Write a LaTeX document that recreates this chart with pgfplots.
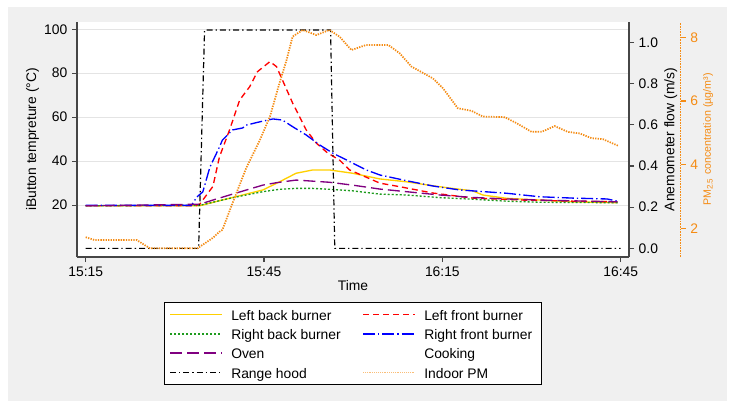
\documentclass[border=0pt]{standalone}
\usepackage{pgfplots}
\pgfplotsset{compat=1.18}
\usepackage{fontspec}
\setmainfont{Liberation Sans}
\definecolor{bggray}{RGB}{240,240,240}
\definecolor{cyellow}{RGB}{255,208,0}
\definecolor{cred}{RGB}{255,0,0}
\definecolor{cgreen}{RGB}{30,155,30}
\definecolor{cblue}{RGB}{0,0,255}
\definecolor{cpurple}{RGB}{128,0,128}
\definecolor{corange}{RGB}{245,140,20}
\definecolor{clorange}{RGB}{250,190,120}
\definecolor{axgray}{RGB}{70,70,70}
\definecolor{gridgray}{RGB}{228,228,228}
\newcommand\fa{\fontsize{10.4pt}{12pt}\selectfont}
\newcommand\fb{\fontsize{8pt}{9.6pt}\selectfont}
\pgfplotsset{
  base/.style={
    at={(57.75pt,113.25pt)}, anchor=south west,
    scale only axis, height=176.25pt,
    xmin=-1.46,
    /pgf/number format/assume math mode=true,
    tick align=outside, major tick length=3.75pt,
    tick label style={font=\fa},
    label style={font=\fa},
    axis line style={-, line width=0.9pt},
  },
}
\tikzset{
  yellowline/.style={color=cyellow, draw=cyellow, line width=1pt, solid},
  redline/.style={color=cred, draw=cred, line width=1pt, dash pattern=on 4.5pt off 3pt},
  greenline/.style={color=cgreen, draw=cgreen, line width=1pt, dash pattern=on 1.5pt off 1.5pt},
  blueline/.style={color=cblue, draw=cblue, line width=1pt, dash pattern=on 9pt off 2.25pt on 1pt off 2.25pt},
  purpleline/.style={color=cpurple, draw=cpurple, line width=1pt, dash pattern=on 9pt off 3.75pt},
  hoodline/.style={color=black, draw=black, line width=0.9pt, dash pattern=on 4.5pt off 2.25pt on 1pt off 2.25pt},
  pmlegend/.style={color=clorange, draw=clorange, line width=0.7pt, dash pattern=on 0.7pt off 0.7pt},
  legtext/.style={anchor=base west, inner sep=0pt, font=\fa, text=black},
}
\begin{document}
\begin{tikzpicture}
\fill[white] (0,0) rectangle (550.5pt,306pt);
\fill[bggray] (6pt,5.25pt) rectangle (545.5pt,300.75pt);

% Temperature axis
\begin{axis}[base, width=414pt, xmax=91.4,
  ymin=-3.6, ymax=103.3,
  axis x line*=bottom, axis y line*=left,
  axis line style={axgray},
  tick style={axgray, line width=0.9pt},
  xtick={0,30,60,90}, xticklabels={15:15,15:45,16:15,16:45},
  ytick={20,40,60,80,100},
  ymajorgrids, grid style={gridgray, line width=0.9pt},
  axis background/.style={fill=white},
  xlabel={Time},
  xlabel style={at={(axis description cs:0.5,-0.123)}, anchor=center},
  ylabel={iButton tempreture (°C)},
  ylabel style={at={(axis description cs:-0.0806,0.5)}, anchor=center},
]
\addplot[yellowline] coordinates {
(0,19.7) (19.2,19.7) (22.5,22.0) (24.2,23.1) (29.8,26.9) (32.1,29.9) (35.4,34.5) (38.2,36.0) (41.0,36.0) (44.9,34.5) (49.5,31.9) (54.0,30.6) (58.4,28.8) (61.7,27.6) (65.1,26.5) (66.8,24.6) (70.8,23.1) (76.4,22.3) (81.9,21.5) (89.5,21.1)};
\addplot[redline] coordinates {
(0,19.7) (18.5,19.7) (19.2,20.5) (19.7,22.3) (21.4,28.5) (22.5,41.9) (24.2,54.2) (25.9,67.8) (27.6,73.9) (28.9,80.7) (31.0,85.3) (32.1,83.0) (33.1,76.9) (34.8,66.5) (37.1,54.2) (38.8,48.2) (40.7,43.7) (42.7,40.5) (44.4,36.0) (46.1,34.0) (48.3,31.4) (49.5,30.0) (52.8,28.4) (58.4,25.5) (65.1,23.2) (73.5,22.3) (81.9,21.8) (89.5,21.5)};
\addplot[greenline] coordinates {
(0,19.7) (19.2,19.9) (22.5,22.0) (24.2,23.1) (29.8,26.1) (32.6,27.2) (35.4,27.6) (38.2,27.6) (41.0,27.2) (44.9,26.5) (49.5,25.0) (54.0,24.6) (59.6,23.4) (65.1,22.7) (70.8,21.8) (76.4,21.3) (89.5,21.1)};
\addplot[blueline] coordinates {
(0,19.9) (17.8,19.9) (18.7,23.7) (19.7,26.0) (20.9,37.3) (22.5,46.4) (23.0,49.6) (24.2,52.8) (24.7,54.2) (26.4,55.1) (27.0,56.4) (29.3,57.9) (31.5,59.2) (33.1,58.7) (34.8,55.7) (37.1,51.9) (39.4,47.3) (41.6,43.6) (43.9,40.5) (46.1,37.5) (47.2,36.0) (49.5,33.7) (54.0,31.1) (58.4,28.7) (62.9,26.9) (70.8,25.4) (76.4,23.8) (81.9,23.2) (87.7,22.8) (89.5,21.8)};
\addplot[purpleline] coordinates {
(0,19.7) (19.2,20.4) (21.4,22.3) (24.2,24.6) (29.8,29.1) (32.1,30.2) (35.4,31.4) (41.0,30.4) (44.9,29.1) (49.5,27.3) (54.0,26.1) (59.6,24.6) (65.1,23.5) (70.8,22.8) (76.4,22.3) (89.5,21.5)};
\end{axis}

% Flow axis
\begin{axis}[base, width=414pt, xmax=91.4,
  ymin=-0.042, ymax=1.099,
  hide x axis, axis y line*=right,
  axis line style={axgray},
  tick style={axgray, line width=0.9pt},
  ytick={0,0.2,0.4,0.6,0.8,1.0},
  yticklabel style={/pgf/number format/.cd, fixed, fixed zerofill, precision=1},
  ylabel={Anemometer flow (m/s)},
  ylabel style={at={(axis description cs:1.0757,0.5)}, anchor=center, rotate=0},
]
\addplot[hoodline] coordinates {
(0,0) (19.0,0) (20.0,1.06) (41.2,1.06) (41.9,0) (90,0)};
\end{axis}

% PM axis
\begin{axis}[base, width=452.8pt, xmax=100.1,
  ymin=1.098, ymax=8.48,
  hide x axis, axis y line*=right,
  axis line style={corange, line width=0.75pt, dash pattern=on 0.6pt off 0.6pt},
  tick style={corange, line width=0.9pt},
  yticklabel style={text=corange},
  ytick={2,4,6,8},
  ylabel={PM\textsubscript{2.5} concentration (µg/m³)},
  ylabel style={at={(axis description cs:1.0452,0.5)}, anchor=center, font=\fb, text=corange},
]
\addplot[color=corange, draw=corange, line width=1.3pt, dash pattern=on 1pt off 0.9pt] coordinates {
(0,1.72) (1.5,1.63) (8.6,1.63) (10.8,1.37) (18.8,1.37) (19.2,1.42) (21.4,1.70) (22.5,1.89) (23.0,1.95) (24.7,2.79) (27.0,3.89) (29.3,4.77) (31.0,5.51) (32.6,6.56) (33.8,7.29) (34.8,8.02) (36.5,8.23) (38.8,8.07) (41.0,8.23) (42.7,8.02) (44.7,7.60) (47.2,7.76) (50.9,7.76) (52.8,7.50) (54.8,7.08) (58.4,6.71) (60.1,6.40) (62.6,5.77) (64.9,5.69) (66.8,5.51) (70.5,5.49) (72.5,5.30) (75.0,5.03) (76.7,5.03) (78.9,5.21) (81.1,5.03) (83.1,4.98) (85.1,4.83) (87.0,4.80) (89.6,4.59)};
\end{axis}

% Legend box and samples (all lines first, then texts)
\draw[black, line width=0.6pt, fill=white] (123.2pt,17.8pt) rectangle (405.75pt,79.3pt);
\begin{scope}[color=cyellow]\draw[yellowline] (127.5pt,70.3pt) -- (166.5pt,70.3pt);\end{scope}
\begin{scope}[color=cred]\draw[redline] (272.25pt,70.3pt) -- (311.25pt,70.3pt);\end{scope}
\begin{scope}[color=cgreen]\draw[greenline] (127.5pt,55.6pt) -- (166.5pt,55.6pt);\end{scope}
\begin{scope}[color=cblue]\draw[blueline] (272.25pt,55.6pt) -- (311.25pt,55.6pt);\end{scope}
\begin{scope}[color=cpurple]\draw[purpleline] (127.5pt,41.25pt) -- (166.5pt,41.25pt);\end{scope}
\draw[hoodline] (127.5pt,26.8pt) -- (166.5pt,26.8pt);
\begin{scope}[color=clorange]\draw[pmlegend] (272.25pt,26.8pt) -- (311.25pt,26.8pt);\end{scope}
\node[legtext] at (173.25pt,65.9pt) {Left back burner};
\node[legtext] at (318pt,65.9pt) {Left front burner};
\node[legtext] at (173.25pt,51.3pt) {Right back burner};
\node[legtext] at (318pt,51.3pt) {Right front burner};
\node[legtext] at (173.25pt,36.85pt) {Oven};
\node[legtext] at (318pt,36.85pt) {Cooking};
\node[legtext] at (173.25pt,22.4pt) {Range hood};
\node[legtext] at (318pt,22.4pt) {Indoor PM};
\end{tikzpicture}
\end{document}
